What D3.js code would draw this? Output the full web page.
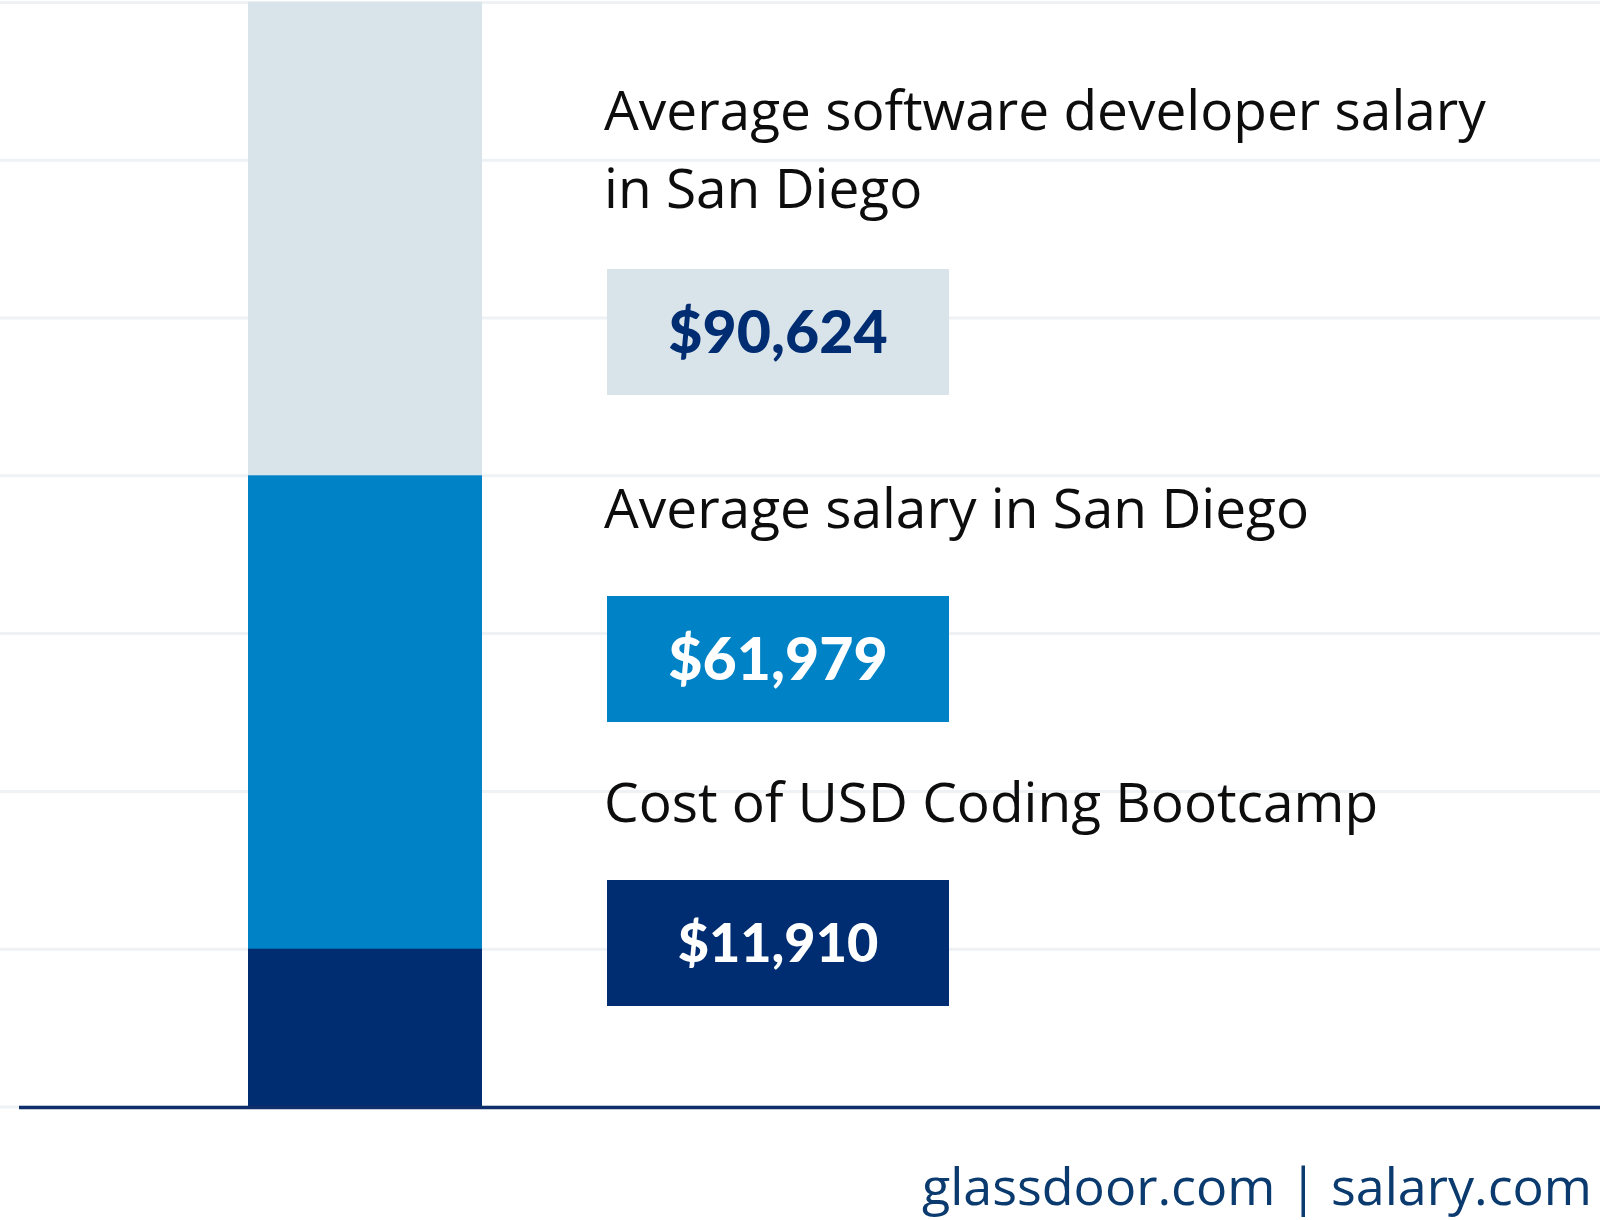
<!DOCTYPE html>
<html>
<head>
<meta charset="utf-8">
<script src="https://cdn.jsdelivr.net/npm/d3@7"></script>
<style>
  body { margin: 0; background: #fff; }
  svg { display: block; }
  .grid line { stroke: #eef2f5; stroke-width: 3; }
  .grid .domain { display: none; }
</style>
</head>
<body>
<div id="chart"></div>
<script>
// chart data
const labelLines = [
  ["Average software developer salary", "in San Diego"],
  ["Average salary in San Diego"],
  ["Cost of USD Coding Bootcamp"]
]
const values = [90624, 61979, 11910]
// bar heights as drawn, in gridline steps (the original is not to scale)
const barSteps = [7, 4, 1]
const fills = ["#d9e3ea", "#0082c6", "#002d72"]
const valueColors = ["#002d72", "#ffffff", "#ffffff"]
const source = "glassdoor.com | salary.com"

const width = 1600
const height = 1220
const baseline = 1106.5
const stepPx = 157.8

// layout of the annotation column
const labelX = 604
const labelBaselines = [[130, 208], [528], [822]]
const boxX = 607, boxW = 342, boxH = 126
const boxTops = [269, 596, 880]
const valueSizes = [59, 59, 54]

const svg = d3.select("#chart")
  .append("svg")
  .attr("width", width)
  .attr("height", height)

const y = d3.scaleLinear()
  .domain([0, 7])
  .range([baseline, baseline - 7 * stepPx])

const x = d3.scaleBand()
  .domain(["San Diego"])
  .range([248, 482])

// gridlines
svg.append("g")
  .attr("class", "grid")
  .call(d3.axisLeft(y).ticks(7).tickSize(-width).tickFormat(""))

// overlapping bars, tallest first
svg.selectAll("rect.bar")
  .data(barSteps)
  .join("rect")
  .attr("class", "bar")
  .attr("x", x("San Diego"))
  .attr("width", x.bandwidth())
  .attr("y", d => y(d))
  .attr("height", d => y(0) - y(d))
  .attr("fill", (d, i) => fills[i])

// baseline
svg.append("line")
  .attr("x1", 19)
  .attr("x2", width)
  .attr("y1", y(0) + 1)
  .attr("y2", y(0) + 1)
  .attr("stroke", "#0e2f6b")
  .attr("stroke-width", 3.5)

// labels
const labels = svg.selectAll("text.label")
  .data(labelLines)
  .join("text")
  .attr("class", "label")
  .attr("font-family", "'Open Sans', Lato, sans-serif")
  .attr("font-size", 55)
  .attr("fill", "#0d0d0d")

labels.selectAll("tspan")
  .data((d, i) => d.map((line, j) => ({ line, y: labelBaselines[i][j] })))
  .join("tspan")
  .attr("x", labelX)
  .attr("y", d => d.y)
  .text(d => d.line)

// value boxes
const fmt = d3.format("$,")

svg.selectAll("rect.box")
  .data(values)
  .join("rect")
  .attr("class", "box")
  .attr("x", boxX)
  .attr("y", (d, i) => boxTops[i])
  .attr("width", boxW)
  .attr("height", boxH)
  .attr("fill", (d, i) => fills[i])

svg.selectAll("text.value")
  .data(values)
  .join("text")
  .attr("class", "value")
  .attr("x", boxX + boxW / 2)
  .attr("y", (d, i) => boxTops[i] + boxH / 2 + valueSizes[i] * 0.36)
  .attr("text-anchor", "middle")
  .attr("font-family", "Lato, sans-serif")
  .attr("font-weight", 900)
  .attr("font-size", (d, i) => valueSizes[i])
  .attr("fill", (d, i) => valueColors[i])
  .text(d => fmt(d))

// source
svg.append("text")
  .attr("x", 1592)
  .attr("y", 1205)
  .attr("text-anchor", "end")
  .attr("font-family", "'Open Sans', Lato, sans-serif")
  .attr("font-size", 52)
  .attr("fill", "#0a3a6e")
  .text(source)
</script>
</body>
</html>
